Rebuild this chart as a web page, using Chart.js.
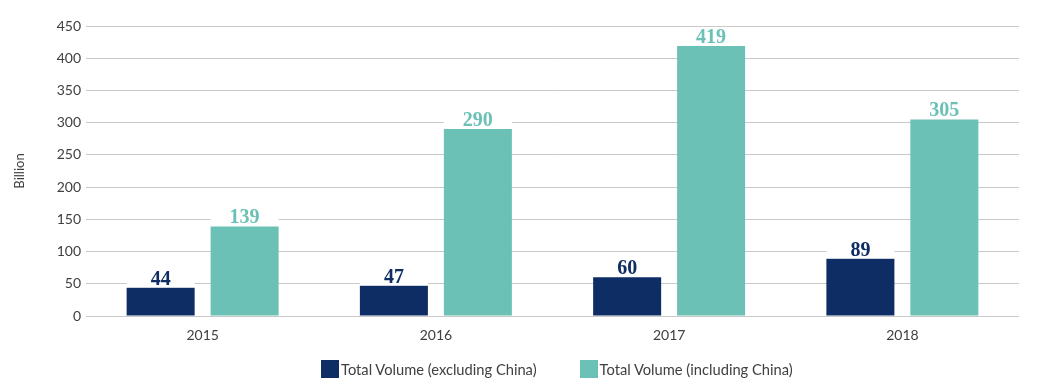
<!DOCTYPE html>
<html>
<head>
<meta charset="utf-8">
<script src="https://cdn.jsdelivr.net/npm/chart.js"></script>
<style>
  html, body { margin: 0; padding: 0; background: #fff; }
  #wrap { position: relative; width: 1052px; height: 390px; }
  #legend { position: absolute; left: 321px; top: 360px; display: flex; font-family: Lato, sans-serif; font-size: 14.7px; color: #404040; }
  .item { display: flex; align-items: center; margin-right: 43px; height: 18px; }
  .box { width: 18px; height: 18px; margin-right: 2px; }
</style>
</head>
<body>
<div id="wrap">
  <canvas id="volumeChart"></canvas>
  <div id="legend"></div>
</div>
<script>
const years = ['2015', '2016', '2017', '2018'];
const excludingChina = [44, 47, 60, 89];
const includingChina = [139, 290, 419, 305];
const yTicks = [0, 50, 100, 150, 200, 250, 300, 350, 400, 450];

const navy = '#0e2d64';
const teal = '#6bc1b6';

// value labels on a white strip above each bar (hides the grid line)
const valueLabels = {
  id: 'valueLabels',
  afterDatasetsDraw: function (chart) {
    const ctx = chart.ctx;
    ctx.save();
    ctx.font = 'bold 20px "Liberation Serif"';
    ctx.textAlign = 'center';
    ctx.textBaseline = 'alphabetic';
    chart.data.datasets.forEach(function (ds, i) {
      chart.getDatasetMeta(i).data.forEach(function (bar, j) {
        const w = bar.width;
        ctx.fillStyle = '#ffffff';
        ctx.fillRect(bar.x - w / 2, bar.y - 18, w, 17.5);
        ctx.fillStyle = ds.backgroundColor;
        ctx.fillText(ds.data[j], bar.x, bar.y - 3);
      });
    });
    ctx.restore();
  }
};

let ctx = document.getElementById('volumeChart').getContext('2d');
let volumeChart = new Chart(ctx, {
  type: 'bar',
  data: {
    labels: years,
    datasets: [{
      label: 'Total Volume (excluding China)',
      data: excludingChina,
      backgroundColor: navy
    }, {
      label: 'Total Volume (including China)',
      data: includingChina,
      backgroundColor: teal
    }]
  },
  options: {
    responsive: true,
    maintainAspectRatio: false,
    animation: false,
    layout: {
      padding: { top: 26, right: 33, left: 10, bottom: 34 }
    },
    datasets: {
      bar: { categoryPercentage: 0.72, barPercentage: 0.81 }
    },
    scales: {
      x: {
        grid: { display: false },
        border: { display: false },
        ticks: {
          color: '#404040',
          font: { family: 'Lato', size: 14 },
          padding: 3
        },
        afterFit: function (scale) { scale.height = 40; }
      },
      y: {
        min: 0,
        max: 450,
        afterBuildTicks: function (scale) {
          scale.ticks = yTicks.map(v => ({ value: v }));
        },
        grid: { color: '#c9c9c9', lineWidth: 1, drawTicks: false },
        border: { display: false },
        ticks: {
          color: '#404040',
          font: { family: 'Lato', size: 14 },
          padding: 5
        },
        title: {
          display: true,
          text: 'Billion',
          color: '#404040',
          font: { family: 'Lato', size: 13 },
          padding: 2
        },
        afterFit: function (scale) { scale.width = 76; }
      }
    },
    plugins: {
      legend: { display: false },
      tooltip: { enabled: false }
    }
  },
  plugins: [valueLabels]
});

// legend built from the chart's own datasets
$legend = document.getElementById('legend');
volumeChart.data.datasets.forEach(function (ds) {
  let item = document.createElement('div');
  item.className = 'item';
  item.innerHTML = '<span class="box" style="background:' + ds.backgroundColor + '"></span><span>' + ds.label + '</span>';
  $legend.appendChild(item);
});
</script>
</body>
</html>
